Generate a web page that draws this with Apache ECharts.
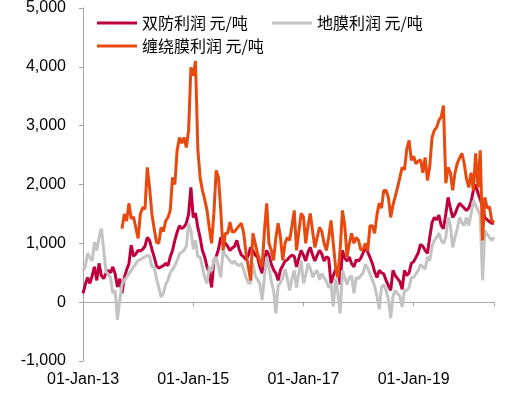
<!DOCTYPE html>
<html>
<head>
<meta charset="utf-8">
<script src="https://cdn.jsdelivr.net/npm/echarts@6/dist/echarts.min.js"></script>
<style>
  html, body { margin: 0; padding: 0; background: #fff; }
  #main { width: 522px; height: 398px; }
</style>
</head>
<body>
<div id="main"></div>
<script>
var seriesNames = ['双防利润 元/吨', '地膜利润 元/吨', '缠绕膜利润 元/吨'];

// semi-monthly readings (1st and 16th), Jan 2013 - Jun 2020
var shuangfang = [
  150, 300, 420, 320, 450, 600, 370, 660, 450, 400,
  490, 540, 500, 600, 480, 260, 400, 150, 420, 550,
  650, 970, 780, 820, 880, 870, 900, 950, 1100, 1050,
  900, 770, 620, 580, 600, 620, 660, 620, 770, 880,
  1050, 1190, 1300, 1250, 1280, 1340, 1500, 1950, 1440, 1510,
  1270, 1100, 880, 770, 600, 490, 250, 700, 770, 900,
  1100, 1050, 1000, 950, 880, 920, 950, 1050, 900, 800,
  770, 720, 800, 930, 880, 800, 770, 600, 490, 700,
  880, 800, 650, 550, 490, 370, 550, 620, 700, 720,
  770, 800, 780, 600, 750, 880, 800, 700, 850, 930,
  800, 700, 800, 880, 820, 700, 770, 750, 320, 450,
  550, 600, 300, 880, 750, 700, 770, 650, 600, 720,
  700, 750, 840, 930, 850, 760, 660, 520, 420, 540,
  500, 480, 370, 280, 200, 540, 450, 400, 350, 220,
  540, 450, 500, 660, 690, 760, 840, 980, 950, 880,
  830, 1100, 1350, 1440, 1400, 1480, 1300, 1250, 1500, 1780,
  1600, 1440, 1500, 1600, 1680, 1640, 1600, 1560, 1600, 1700,
  1900, 2000, 1850, 1750, 1620, 1440, 1400, 1370, 1340, 1340
];
var dimo = [
  540, 600, 830, 760, 700, 1020, 880, 1100, 1250, 900,
  520, 470, 420, 150, 200, -300, 30, 300, 380, 420,
  480, 540, 600, 650, 710, 720, 750, 770, 800, 780,
  600, 600, 400, 250, 85, 150, 300, 370, 500, 560,
  620, 710, 820, 850, 880, 950, 1340, 1220, 900, 1050,
  770, 770, 600, 420, 320, 600, 530, 700, 770, 600,
  420, 880, 800, 760, 700, 660, 700, 640, 620, 660,
  550, 420, 330, 320, 660, 450, 380, 320, 35, 420,
  770, 600, 350, 200, -190, 280, 330, 420, 560, 400,
  200, 400, 540, 250, 500, 710, 320, 450, 660, 580,
  420, 500, 540, 380, 480, 420, 350, 250, 300, -70,
  400, 150, -190, 540, 420, 300, 420, 450, 150, 420,
  400, 450, 500, 640, 580, 480, 380, 280, 100, -120,
  250, 300, 200, 50, -270, 100, 200, 150, 100, -80,
  200, 200, 250, 420, 420, 480, 540, 640, 600, 560,
  770, 700, 950, 1050, 1100, 1170, 1050, 1000, 1100, 1440,
  1300, 930, 1100, 1250, 1440, 1350, 1300, 1440, 1300, 1500,
  1730, 1650, 1560, 1480, 370, 1220, 1150, 1100, 1050, 1100
];
var chanraomo = [
  null, null, null, null, null, null, null, null, null, null,
  null, null, null, null, null, null, null, 1250, 1500, 1380,
  1680, 1420, 1450, 1270, 1085, 1500, 1610, 1580, 2290, 1950,
  1500, 1250, 1020, 1000, 1270, 1200, 1380, 1440, 1560, 2120,
  2000, 2580, 2800, 2700, 2800, 2630, 2920, 3990, 3850, 4100,
  2600, 2120, 1900, 1750, 1560, 1270, 1000, 1500, 2240, 2120,
  1560, 880, 1170, 1170, 1360, 1190, 1200, 1250, 1300, 1340,
  1170, 830, 600, 370, 1170, 1000, 830, 700, 600, 1200,
  1680, 1000, 880, 710, 1100, 1340, 1100, 710, 1000, 1100,
  1050, 1300, 1560, 880, 1200, 1510, 1450, 1000, 1300, 1510,
  1200, 930, 1100, 1270, 1200, 1000, 880, 1100, 1390, 1000,
  600, 420, 900, 1560, 1300, 770, 1000, 1170, 1000, 1100,
  1050, 890, 900, 1000, 870, 1300, 1300, 1170, 1480, 1680,
  1600, 1900, 1900, 1780, 1440, 1650, 1800, 1950, 2120, 2290,
  2250, 2600, 2750, 2410, 2480, 2350, 2400, 2420, 2200, 2460,
  2070, 2300, 2800, 2920, 2970, 3090, 3150, 3340, 2020, 2290,
  2200, 1900, 2200, 2360, 2450, 2530, 2360, 2100, 1950, 2200,
  1900, 2530, 1950, 2580, 1050, 1780, 1600, 1620, 1390, 1350
];

// x position = years after 01-Jan-13 (dates on the 1st and 16th of each month)
var baseYear = 2013;
var xPos = [];
for (var i = 0; i < shuangfang.length; i++) {
  var mo = Math.floor((i % 24) / 2);
  var dy = i % 2 ? 15 : 0;
  xPos.push(Math.floor(i / 24) + mo / 12 + dy / 365);
}

function pairs(arr) {
  return arr.map(function (v, i) { return [xPos[i], v]; });
}

var font = 'Liberation Sans, Arial, sans-serif';
var axisGray = '#A6A6A6';
var legendCommon = {
  icon: 'rect', itemWidth: 40, itemHeight: 3, padding: 0,
  textStyle: { fontSize: 16, color: '#000', fontFamily: 'Noto Sans CJK SC' }
};
var xMax = xPos[xPos.length - 1];

var myChart = echarts.init(document.getElementById('main'));
myChart.setOption({
  animation: false,
  backgroundColor: '#fff',
  color: ['#C0003C', '#C3C3C3', '#E8490F'],
  grid: { left: 83, right: 28, top: 8, bottom: 37, containLabel: false },
  legend: [
    Object.assign({ left: 97, top: 15, data: [seriesNames[0]] }, legendCommon),
    Object.assign({ left: 272, top: 15, data: [seriesNames[1]] }, legendCommon),
    Object.assign({ left: 97, top: 38, data: [seriesNames[2]] }, legendCommon)
  ],
  xAxis: [
    {
      type: 'value', position: 'top',
      min: 0, max: xMax, interval: 2,
      axisLine: { onZero: true, lineStyle: { color: axisGray, width: 1 } },
      axisTick: { show: true, inside: true, length: 4, lineStyle: { color: axisGray } },
      axisLabel: { show: false },
      splitLine: { show: false }
    },
    {
      type: 'value', position: 'bottom',
      min: 0, max: xMax, interval: 2,
      axisLine: { show: false, onZero: false },
      axisTick: { show: false },
      axisLabel: {
        margin: 11, fontSize: 16, color: '#000', fontFamily: font,
        formatter: function (v) {
          return v % 2 === 0 ? '01-Jan-' + (baseYear - 2000 + v) : '';
        }
      },
      splitLine: { show: false }
    }
  ],
  yAxis: {
    type: 'value', min: -1000, max: 5000, interval: 1000,
    axisLine: { show: true, lineStyle: { color: axisGray, width: 1 } },
    axisTick: { show: true, length: 4, lineStyle: { color: axisGray } },
    splitLine: { show: false },
    axisLabel: {
      margin: 17, fontSize: 16, color: '#000', fontFamily: font,
      formatter: function (v) { return v.toLocaleString('en-US'); }
    }
  },
  series: [
    { name: seriesNames[0], type: 'line', xAxisIndex: 0, data: pairs(shuangfang), showSymbol: false, symbol: 'none', lineStyle: { width: 3 } },
    { name: seriesNames[1], type: 'line', xAxisIndex: 0, data: pairs(dimo), showSymbol: false, symbol: 'none', lineStyle: { width: 3 } },
    { name: seriesNames[2], type: 'line', xAxisIndex: 0, data: pairs(chanraomo), showSymbol: false, symbol: 'none', lineStyle: { width: 3 } }
  ]
});
</script>
</body>
</html>
